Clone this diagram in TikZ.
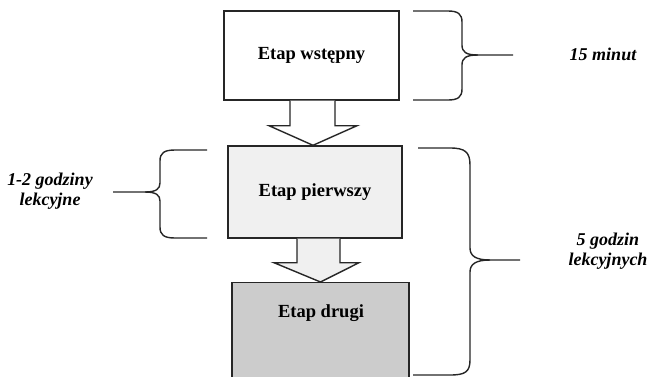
\documentclass[tikz,border=0pt]{standalone}
\usepackage{fontspec}
\setmainfont{Liberation Serif}
\usetikzlibrary{calc}
\begin{document}
\begin{tikzpicture}[x=1pt,y=-1pt,
  lw/.style={line width=1.4pt, draw=black!85},
  stagefont/.style={font=\fontsize{18.5}{21}\selectfont\bfseries},
  stage/.style={lw, rectangle, inner sep=0pt, stagefont},
  blockarrow/.style={lw, line join=miter},
  bracepath/.style={line width=1.4pt, draw=black!85},
  note/.style={font=\fontsize{18}{20}\selectfont\bfseries\itshape, align=center, inner sep=0pt}]
\useasboundingbox (0,0) rectangle (649,376);

% stages
\node[stage, fill=white, minimum width=175pt, minimum height=89pt] (b1) at (311.5,55.5) {Etap wstępny};
\node[stage, fill=black!6, minimum width=174pt, minimum height=92pt] (b2) at (315,192) {Etap pierwszy};
\node[stage, fill=black!20, minimum width=177pt, minimum height=100pt, anchor=north] (b3) at (320.5,282) {};
\node[stagefont, inner sep=0pt] (t3) at (321,313) {Etap drugi};

% block arrows
\draw[blockarrow, fill=white] ($(b1.south)+(-21.5,0)$) -- ++(0,25) -- ++(-21,0) -- ($(b2.north)+(-2,0)$)
  -- ($(b1.south)+(45.5,25)$) -- ++(-22,0) -- ($(b1.south)+(23.5,0)$);
\draw[blockarrow, fill=black!6] ($(b2.south)+(-18,0)$) -- ++(0,24) -- ++(-23,0) -- (b3.north)
  -- ($(b2.south)+(44,24)$) -- ++(-19,0) -- ($(b2.south)+(25,0)$);

% braces
\draw[bracepath] (413,11) -- (448,11) .. controls (458,11) and (462,14) .. (462,22) -- (462,45)
  .. controls (462,52) and (466,55) .. (478,55) -- (513,55);
\draw[bracepath] (478,55) .. controls (466,55) and (462,58) .. (462,65) -- (462,89)
  .. controls (462,97) and (458,100) .. (448,100) -- (413,100);

\draw[bracepath] (207,150) -- (175,150) .. controls (164,150) and (160,153) .. (160,161) -- (160,183)
  .. controls (160,189) and (156,192) .. (145,192) -- (113,192);
\draw[bracepath] (145,192) .. controls (156,192) and (160,195) .. (160,201) -- (160,227)
  .. controls (160,235) and (164,238) .. (175,238) -- (207,238);

\draw[bracepath] (418,148) -- (450,148) .. controls (465,148) and (470,152) .. (470,165) -- (470,248)
  .. controls (470,256) and (476,260) .. (490,260) -- (520,260);
\draw[bracepath] (490,260) .. controls (476,260) and (470,264) .. (470,272) -- (470,360)
  .. controls (470,372) and (465,375) .. (450,375) -- (413,375);

% labels
\node[note] (n1) at (603,54) {15 minut};
\node[note] (n2) at (50,191) {1-2 godziny\\lekcyjne};
\node[note] (n3) at (608,251) {5 godzin\\lekcyjnych};
\end{tikzpicture}
\end{document}
